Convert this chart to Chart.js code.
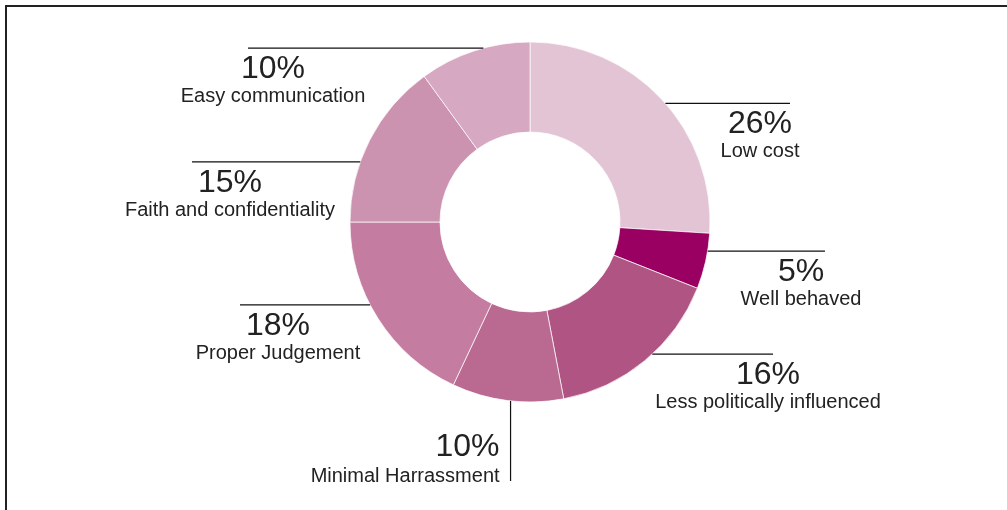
<!DOCTYPE html>
<html>
<head>
<meta charset="utf-8">
<script src="https://cdn.jsdelivr.net/npm/chart.js@4.4.1/dist/chart.umd.min.js"></script>
<style>
  html, body { margin: 0; padding: 0; background: #fff; }
  #wrap { position: relative; width: 1007px; height: 510px; }
  #frame { position: absolute; left: 5px; top: 5px; right: -4px; bottom: -4px; border-left: 2px solid #222; border-top: 2px solid #222; pointer-events: none; }
</style>
</head>
<body>
<div id="wrap">
  <canvas id="reasonsChart" width="1007" height="510"></canvas>
  <div id="frame"></div>
</div>
<script>
// categories, clockwise from 12 o'clock
const categories = ['Low cost', 'Well behaved', 'Less politically influenced', 'Minimal Harrassment',
    'Proper Judgement', 'Faith and confidentiality', 'Easy communication'];
const shares = [26, 5, 16, 10, 18, 15, 10]; // percent
const sliceColors = ['#e2c4d5', '#990061', '#b05583', '#ba6990', '#c47ca0', '#cc93b1', '#d7a8c2'];

// callout layout: side, angle tweak (deg) from slice middle,
// outer end of leader line and text centre, both as x offsets from the chart centre
const callouts = [
    { side: 'right', tweak: 2,    reach: 260,  textX: 230 },
    { side: 'right', tweak: -3.3, reach: 295,  textX: 271 },
    { side: 'right', tweak: -3.2, reach: 243,  textX: 238 },
    { side: 'down',  tweak: -1,   reach: 259,  textX: -11 },
    { side: 'left',  tweak: 5,    reach: -290, textX: -252 },
    { side: 'left',  tweak: -7.5, reach: -338, textX: -300 },
    { side: 'left',  tweak: 3,    reach: -282, textX: -257 }
];

const pctFont = '32px "Liberation Sans", Arial, sans-serif';
const nameFont = '20px "Liberation Sans", Arial, sans-serif';

const calloutPlugin = {
    id: 'callouts',
    afterDatasetsDraw(chart) {
        const ctx = chart.ctx;
        const arcs = chart.getDatasetMeta(0).data;
        ctx.save();
        ctx.strokeStyle = '#111';
        ctx.lineWidth = 1.2;
        ctx.fillStyle = '#222';
        arcs.forEach((arc, i) => {
            const c = callouts[i];
            const mid = (arc.startAngle + arc.endAngle) / 2 + c.tweak * Math.PI / 180;
            const ax = arc.x + arc.outerRadius * Math.cos(mid);
            const ay = arc.y + arc.outerRadius * Math.sin(mid);
            const pct = shares[i] + '%';
            ctx.beginPath();
            if (c.side === 'down') {
                const ey = arc.y + c.reach;
                ctx.moveTo(ax, ay);
                ctx.lineTo(ax, ey);
                ctx.stroke();
                ctx.textAlign = 'right';
                ctx.font = pctFont;
                ctx.fillText(pct, ax + c.textX, ey - 25);
                ctx.font = nameFont;
                ctx.fillText(categories[i], ax + c.textX, ey + 1);
                return;
            }
            ctx.moveTo(ax, ay);
            ctx.lineTo(arc.x + c.reach, ay);
            ctx.stroke();
            const tx = arc.x + c.textX;
            ctx.textAlign = 'center';
            ctx.font = pctFont;
            ctx.fillText(pct, tx, ay + 30);
            ctx.font = nameFont;
            ctx.fillText(categories[i], tx, ay + 54);
        });
        ctx.restore();
    }
};

const config = {
    type: 'doughnut',
    data: {
        labels: categories,
        datasets: [{
            data: shares,
            backgroundColor: sliceColors,
            borderColor: 'rgba(255,255,255,0.7)',
            borderWidth: 1,
            hoverOffset: 0
        }]
    },
    options: {
        responsive: false,
        animation: false,
        cutout: '50%',
        layout: { padding: { top: 41.5, bottom: 107.5, left: 200, right: 147 } },
        plugins: {
            legend: { display: false },
            tooltip: { enabled: false }
        }
    },
    plugins: [calloutPlugin]
};

const ctx = document.getElementById('reasonsChart').getContext('2d');
const reasonsChart = new Chart(ctx, config);
</script>
</body>
</html>
